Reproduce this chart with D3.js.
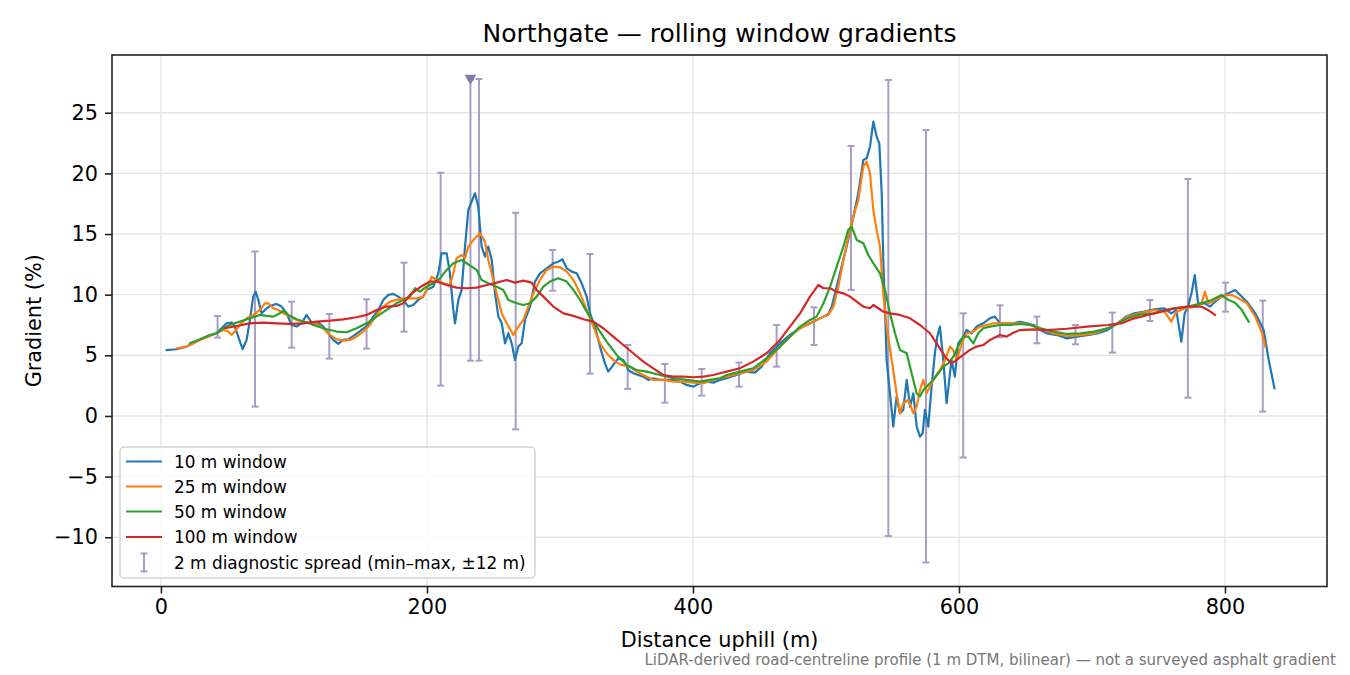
<!DOCTYPE html>
<html>
<head>
<meta charset="utf-8">
<script src="https://cdn.jsdelivr.net/npm/d3@7"></script>
<style>
  html, body { margin: 0; padding: 0; background: #fff; }
  svg { display: block; font-family: "DejaVu Sans", sans-serif; }
</style>
</head>
<body>
<svg id="chart" width="1350" height="675"></svg>
<script>
// ---------------- DATA ----------------
const title = "Northgate — rolling window gradients";
const xLabel = "Distance uphill (m)";
const yLabel = "Gradient (%)";
const footnote = "LiDAR-derived road-centreline profile (1 m DTM, bilinear) — not a surveyed asphalt gradient";
const xTicks = [0, 200, 400, 600, 800];
const yTicks = [-10, -5, 0, 5, 10, 15, 20, 25];
const seriesNames = ["10 m window", "25 m window", "50 m window", "100 m window"];
const spreadLabel = "2 m diagnostic spread (min–max, ±12 m)";

// [distance m, gradient %]
const win10 = [
 [4.3,5.44],[11.8,5.5],[19.3,5.72],[26.8,6.13],[34.3,6.54],[41.8,6.82],[45.6,7.23],[49.4,7.64],[53.1,7.7],[55.6,7.37],
 [58.1,6.54],[61.4,5.5],[64.4,6.27],[66.9,7.92],[69.4,9.84],[71.2,10.25],[73.2,9.57],[75.7,8.47],[78.2,8.74],[81.9,9.07],
 [86.9,9.24],[90.7,9.02],[94.5,8.47],[98.2,7.5],[102,7.37],[105.7,7.64],[109.5,8.33],[112,7.92],[114.5,7.5],[118.3,7.7],
 [122,7.37],[125.8,6.82],[129.5,6.27],[133.3,5.94],[137,6.27],[140.8,6.32],[145.9,6.68],[150.9,7.09],[155.9,7.5],[159.6,8.19],
 [163.4,8.74],[167.2,9.57],[170.9,9.98],[174.7,10.06],[178.4,9.84],[182.2,9.57],[186,9.02],[189.7,9.15],[193.5,9.57],[197.2,9.84],
 [199.7,10.39],[204.8,10.66],[208.5,11.76],[211,13.41],[214.8,13.41],[217.3,11.76],[219.8,8.74],[221.1,7.64],[223.6,9.57],[226.1,10.39],
 [228.6,13.96],[231.1,16.98],[233.6,17.67],[236.1,18.36],[238.6,17.26],[241.1,13.96],[243.6,13.14],[246.1,13.96],[248.7,12.86],[251.2,10.11],
 [253.7,8.19],[256.2,7.64],[258.7,5.99],[261.2,6.82],[263.7,5.99],[266.2,4.62],[268.7,5.72],[271.2,5.99],[273.7,7.92],[277.5,9.02],
 [281.2,11.08],[285,11.76],[290,12.17],[295,12.59],[298.8,12.72],[301.8,12.92],[305.1,12.17],[308.8,11.9],[312.6,11.76],[316.3,10.94],
 [320.1,9.84],[322.6,8.46],[326.3,7.37],[330.1,5.72],[333.8,4.34],[336.3,3.66],[340.1,4.21],[343.9,4.76],[347.6,4.62],[351.4,3.79],
 [355.1,3.52],[358.9,3.38],[362.7,3.24],[366.4,2.97],[370.2,3.11],[375.2,2.97],[380.2,2.97],[385.2,2.97],[390.2,2.83],[395.2,2.56],
 [400.3,2.42],[405.3,2.7],[410.3,2.83],[415.3,2.75],[420.3,2.97],[425.3,3.11],[432.8,3.38],[440.3,3.66],[446.6,3.57],[451.6,4.07],
 [457.9,5.17],[465.4,5.99],[472.9,6.68],[480.5,7.23],[488,7.64],[493,7.92],[498.1,8.19],[501.8,8.41],[504.3,9.01],[506.8,10.11],
 [510.5,11.76],[515.5,13.96],[520.6,16.43],[524.3,18.36],[528.1,21.1],[530.6,21.24],[533.1,22.2],[535.6,24.27],[538.1,23.03],[540.1,22.48],
 [541.9,18.36],[543.1,12.86],[544.4,8.74],[545.6,4.62],[548.1,1.87],[550.6,-0.88],[553.1,1.6],[555.6,0.22],[558.1,0.5],[560.7,2.97],
 [563.2,0.77],[565.7,1.87],[568.2,-0.88],[570.7,-1.7],[572.7,-1.43],[574.4,0.5],[576.9,-0.88],[579.4,2.42],[581.9,5.17],[583.7,6.54],
 [585.7,7.37],[588.2,4.62],[590.7,1.05],[592.7,2.97],[594.4,4.62],[596.9,3.24],[599.4,5.99],[603.2,6.54],[605.7,7.09],[609.5,6.82],
 [613.2,7.37],[618.2,7.64],[623.2,8.05],[627,8.19],[630.8,7.64],[635.8,7.64],[640.8,7.64],[646,7.77],[651,7.63],[656,7.5],
 [661.1,7.08],[666.1,6.81],[673.7,6.67],[681.3,6.4],[688.9,6.54],[696.4,6.67],[704,6.81],[711.6,7.08],[719.1,7.63],[725.4,8.18],
 [731.8,8.46],[739.4,8.6],[746.9,8.79],[754.5,8.87],[759.6,8.46],[763.4,8.73],[767.2,6.12],[769.7,8.46],[772.2,9.01],[774.8,10.11],
 [777.3,11.62],[779.8,9.28],[784.9,9.28],[788.7,9.01],[792.5,9.42],[797.5,9.83],[802.6,10.11],[807.6,10.38],[811.4,9.97],[816.5,9.42],
 [822.8,8.46],[829.1,7.08],[832.9,4.61],[837.2,2.28]
];
const win25 = [
 [11.8,5.58],[19.3,5.72],[26.8,6.13],[36.8,6.6],[41.8,6.82],[46.9,7.09],[50.6,6.96],[53.1,6.68],[55.6,6.96],[59.4,7.5],
 [64.4,8.05],[69.4,8.33],[74.4,8.74],[78.2,9.29],[80.7,9.29],[84.5,8.88],[88.2,8.74],[92,8.47],[97,8.19],[102,7.92],
 [107,7.78],[112,7.7],[117,7.59],[122,7.23],[127.1,6.68],[132.1,6.32],[137.1,6.21],[142.1,6.27],[147.1,6.54],[152.1,6.96],
 [157.1,7.5],[162.2,8.33],[167.2,9.02],[172.2,9.43],[177.2,9.57],[182.2,9.7],[187.2,9.7],[192.2,9.7],[197.2,9.84],
 [199.7,10.39],[203.5,11.49],[207.3,11.21],[212.3,10.94],[217.3,10.8],[219.8,11.76],[222.3,13.0],[226.1,13.27],[228.6,13.0],[231.1,13.96],
 [234.9,14.51],[239.9,15.06],[243.6,14.37],[246.1,12.86],[248.7,11.76],[252.4,10.11],[256.2,8.46],[260,7.64],[265,6.68],[268.7,7.37],
 [272.5,7.92],[276.2,9.02],[280,10.11],[285,11.21],[290,12.04],[295,12.31],[300.1,12.26],[305.1,11.9],[310.1,11.21],[315.1,10.11],
 [320.1,8.74],[325.1,7.37],[330.1,5.99],[335.1,5.17],[341.4,4.48],[346.4,4.21],[352.6,4.07],[357.6,3.66],[362.7,3.38],[370.2,2.97],
 [377.7,2.97],[385.2,2.83],[392.7,2.83],[400.3,2.75],[407.8,2.7],[415.3,2.97],[420.3,3.11],[425.3,3.24],[435.3,3.52],[445.3,3.79],
 [455.4,4.48],[465.4,5.72],[472.9,6.54],[480.5,7.23],[488,7.64],[493,7.92],[498.1,8.19],[501.8,8.33],[505.6,9.01],[509.3,10.66],
 [513.1,12.86],[516.8,14.79],[520.6,16.43],[524.3,17.81],[528.1,20.56],[530.6,20.97],[533.1,20.01],[535.6,16.98],[538.1,15.34],[540.6,13.96],
 [543.1,10.11],[545.6,7.37],[549.4,4.62],[553.1,1.87],[555.6,0.22],[558.1,1.05],[561.9,1.32],[565.7,0.22],[568.2,0.77],[570.7,2.14],
 [573.2,2.97],[575.7,1.87],[578.2,2.42],[582,3.24],[585.7,3.79],[589.5,4.62],[593.2,5.72],[595.7,5.44],[598.2,4.62],[600.7,5.44],
 [603.2,6.27],[605.7,6.82],[610.8,6.95],[615.8,7.37],[620.8,7.5],[625.8,7.64],[630.8,7.64],[638.3,7.64],[646,7.63],[653.6,7.5],
 [661.1,7.22],[671.2,6.81],[681.3,6.59],[691.4,6.67],[701.5,6.81],[711.6,7.22],[719.1,7.63],[726.7,8.18],[736.8,8.51],[746.9,8.73],
 [754.5,8.6],[759.6,7.77],[763.4,8.6],[769.7,8.87],[777.3,9.01],[782.4,9.28],[784.9,10.25],[787.4,9.28],[792.5,9.56],[800.1,9.97],
 [805.1,9.97],[810.2,9.7],[816.5,9.28],[822.8,8.18],[827.9,6.81],[830.4,5.71]
];
const win50 = [
 [21.8,6.0],[29.3,6.32],[36.8,6.68],[41.8,6.82],[46.9,7.23],[51.9,7.5],[59.4,7.78],[66.9,8.05],[74.4,8.33],[79.4,8.25],
 [84.5,8.19],[89.5,8.47],[92,8.69],[95.7,8.33],[102,7.97],[109.5,7.7],[117,7.42],[124.6,7.15],[132.1,6.96],[139.6,6.9],
 [147.1,7.23],[154.6,7.64],[162.2,8.19],[169.7,8.74],[177.2,9.29],[182.2,9.57],[187.2,9.84],[191,10.53],[194.7,10.25],
 [199.7,10.66],[204.8,10.94],[209.8,11.35],[214.8,12.04],[219.8,12.59],[226.1,12.86],[229.8,12.59],[233.6,12.31],[237.4,12.04],[241.1,11.21],
 [246.1,10.94],[252.4,10.66],[257.4,10.39],[261.2,9.56],[267.5,9.29],[272.5,9.15],[277.5,9.29],[282.5,9.84],[287.5,10.66],[292.5,11.08],
 [298.8,11.35],[305.1,11.08],[310.1,10.39],[315.1,9.56],[320.1,8.6],[327.6,7.37],[335.1,6.13],[342.6,5.03],[350.1,4.21],[357.6,3.79],
 [365.2,3.66],[375.2,3.38],[385.2,3.11],[395.2,2.97],[405.3,2.83],[412.8,2.97],[420.3,3.11],[425.3,3.38],[435.3,3.66],[445.3,3.93],
 [455.4,4.76],[465.4,5.72],[472.9,6.54],[480.5,7.37],[488,7.92],[493,8.19],[498.1,9.29],[503.1,10.66],[508.1,12.31],[513.1,13.96],
 [516.8,15.34],[519.3,15.61],[523.1,14.51],[528.1,14.24],[531.8,13.27],[535.6,12.59],[540.6,11.76],[544.4,10.39],[548.1,8.46],[551.9,6.82],
 [555.6,5.44],[560.7,5.17],[564.4,3.52],[568.2,1.87],[570.7,1.6],[573.2,2.14],[576.9,2.56],[580.7,2.97],[584.4,3.52],[588.2,4.07],
 [592,4.34],[595.7,4.89],[599.4,5.72],[603.2,6.54],[607,6.54],[610.8,5.99],[614.5,6.82],[618.2,7.23],[623.3,7.37],[630.8,7.5],
 [638.3,7.5],[646,7.58],[653.6,7.5],[661.1,7.22],[671.2,6.95],[681.3,6.76],[691.4,6.81],[701.5,6.95],[711.6,7.22],[719.1,7.63],
 [726.7,8.05],[736.8,8.4],[746.9,8.46],[754.5,8.73],[762.1,8.87],[772.2,9.01],[782.4,9.28],[790,9.56],[797.5,9.97],[802.6,9.56],
 [807.6,9.34],[812.7,8.73],[817.8,7.77]
];
const win100 = [
 [48.1,7.23],[56.9,7.42],[66.9,7.64],[76.9,7.7],[86.9,7.64],[97,7.59],[107,7.64],[117,7.78],[127.1,7.86],[137.1,7.97],
 [147.1,8.14],[154.6,8.33],[162.2,8.74],[169.7,9.02],[177.2,9.07],[182.2,9.29],[187.2,9.98],[194.7,10.61],
 [202.3,11.08],[207.3,11.08],[214.8,10.8],[222.3,10.58],[229.8,10.53],[237.4,10.58],[244.9,10.8],[252.4,10.99],[260,11.21],[266.2,10.99],
 [272.5,11.16],[278.7,10.99],[282.5,10.39],[287.5,9.84],[295,9.02],[302.6,8.46],[310.1,8.25],[317.6,7.97],[325.1,7.78],[332.6,7.23],
 [340.1,6.54],[347.6,5.85],[355.1,5.17],[362.7,4.48],[370.2,3.93],[377.7,3.38],[385.2,3.24],[392.7,3.24],[400.3,3.19],[407.8,3.24],
 [415.3,3.38],[420.3,3.52],[425.3,3.66],[435.3,3.93],[445.3,4.48],[455.4,5.17],[465.4,6.27],[472.9,7.37],[480.5,8.46],[488,9.84],
 [494.3,10.8],[498.1,10.53],[503.1,10.53],[508.1,10.25],[513.1,10.11],[518.1,9.84],[523.1,9.43],[528.1,9.01],[533.1,8.88],[535.6,9.15],
 [539.4,8.88],[543.1,8.6],[548.1,8.46],[555.6,8.33],[563.2,8.05],[570.7,7.5],[578.2,6.82],[583.2,5.99],[589.5,4.89],[594.4,4.34],
 [598.2,4.62],[603.2,5.03],[608.2,5.44],[613.2,5.72],[618.2,5.85],[623.3,6.27],[630.8,6.68],[635.8,6.54],[640.8,6.86],[646,7.08],
 [656,7.14],[666.1,7.08],[681.3,7.19],[696.4,7.36],[711.6,7.5],[721.7,7.63],[731.8,8.05],[741.9,8.32],[752,8.6],[762.1,8.87],
 [772.2,9.01],[782.4,9.01],[787.4,8.73],[792.5,8.32]
];
// 2 m diagnostic spread error bars
const spreadX  = [42.6, 70.7, 98.3, 126.6, 154.6, 182.7, 210.3, 232.7, 239.1, 266.7, 294.5, 322.6, 350.9, 378.9, 406.5, 434.6, 462.9, 491.0, 518.8, 546.9, 575.2, 603.2, 630.8, 658.6, 687.6, 715.3, 743.6, 772.1, 800.4, 828.4];
const spreadLo = [6.46, 0.77, 5.63, 4.73, 5.55, 6.95, 2.50, 4.56, 4.56, -1.10, 10.33, 3.49, 2.23, 1.10, 1.68, 2.42, 4.07, 5.85, 10.39, -9.89, -12.09, -3.43, 6.49, 5.99, 5.91, 5.22, 7.83, 1.51, 8.60, 0.36];
const spreadHi = [8.24, 13.55, 9.42, 8.41, 9.62, 12.64, 20.06, 27.75, 27.78, 16.76, 13.69, 13.36, 5.85, 4.29, 3.87, 4.40, 7.50, 8.96, 22.26, 27.70, 23.58, 8.46, 9.12, 8.19, 7.50, 8.52, 9.56, 19.54, 10.99, 9.51];
// clipped-value marker
const markerX = [232.7];
const markerY = [27.75];

// ---------------- LAYOUT ----------------
const colors = ["#1f77b4", "#ff7f0e", "#2ca02c", "#d62728"];
const seriesData = [win10, win25, win50, win100];
const spreadColor = "#a99dc4";
const markerColor = "#8677a9";
const L = 112, R = 1327, T = 55, B = 586.5;

const svg = d3.select("#chart");
const x = d3.scaleLinear().domain([-36.8, 876.7]).range([L, R]);
const y = d3.scaleLinear().domain([-14.06, 29.76]).range([B, T]);

svg.append("defs").append("clipPath").attr("id", "clip")
  .append("rect").attr("x", L).attr("y", T).attr("width", R - L).attr("height", B - T);

// grid
const grid = svg.append("g");
grid.selectAll(".gx").data(xTicks).join("line")
  .attr("x1", d => x(d)).attr("x2", d => x(d)).attr("y1", T).attr("y2", B)
  .attr("stroke", "#e6e6e6").attr("stroke-width", 1.4);
grid.selectAll(".gy").data(yTicks).join("line")
  .attr("y1", d => y(d)).attr("y2", d => y(d)).attr("x1", L).attr("x2", R)
  .attr("stroke", "#e6e6e6").attr("stroke-width", 1.4);

const plot = svg.append("g").attr("clip-path", "url(#clip)");

// error bars
const eb = plot.append("g").attr("stroke", spreadColor).attr("stroke-width", 2);
spreadX.forEach((sx, i) => {
  const px = x(sx);
  eb.append("line").attr("x1", px).attr("x2", px).attr("y1", y(spreadLo[i])).attr("y2", y(spreadHi[i]));
  eb.append("line").attr("x1", px - 3.5).attr("x2", px + 3.5).attr("y1", y(spreadLo[i])).attr("y2", y(spreadLo[i]));
  eb.append("line").attr("x1", px - 3.5).attr("x2", px + 3.5).attr("y1", y(spreadHi[i])).attr("y2", y(spreadHi[i]));
});

// lines
const line = d3.line().x(d => x(d[0])).y(d => y(d[1]));
seriesData.forEach((s, i) => {
  plot.append("path").datum(s).attr("d", line)
    .attr("fill", "none").attr("stroke", colors[i]).attr("stroke-width", 2.2)
    .attr("stroke-linejoin", "round").attr("stroke-linecap", "square");
});

// marker (downward triangle)
markerX.forEach((mx, i) => {
  const cx = x(mx), cy = y(markerY[i]);
  plot.append("path")
    .attr("d", `M${cx - 5.8},${cy - 4.6} L${cx + 5.8},${cy - 4.6} L${cx},${cy + 5.4} Z`)
    .attr("fill", markerColor);
});

// axes frame
svg.append("rect").attr("x", L).attr("y", T).attr("width", R - L).attr("height", B - T)
  .attr("fill", "none").attr("stroke", "#222").attr("stroke-width", 1.6);

// x axis
const xAxis = d3.axisBottom(x).tickValues(xTicks).tickSize(7).tickPadding(6).tickFormat(d3.format("d"));
const gx = svg.append("g").attr("transform", `translate(0,${B})`).call(xAxis);
gx.select(".domain").remove();
gx.selectAll(".tick line").attr("stroke", "#222").attr("stroke-width", 1.6);
gx.selectAll(".tick text").attr("fill", "#000").attr("font-size", "20.8px")
  .attr("font-family", "DejaVu Sans").attr("dy", "0.71em");

// y axis
const fmtY = d => (d < 0 ? "\u2212" + Math.abs(d) : String(d));
const yAxis = d3.axisLeft(y).tickValues(yTicks).tickSize(7).tickPadding(7).tickFormat(fmtY);
const gy = svg.append("g").attr("transform", `translate(${L},0)`).call(yAxis);
gy.select(".domain").remove();
gy.selectAll(".tick line").attr("stroke", "#222").attr("stroke-width", 1.6);
gy.selectAll(".tick text").attr("fill", "#000").attr("font-size", "20.8px")
  .attr("font-family", "DejaVu Sans");

// labels
svg.append("text").attr("x", (L + R) / 2).attr("y", 42).attr("text-anchor", "middle")
  .attr("font-size", "25px").attr("fill", "#000").text(title);
svg.append("text").attr("x", (L + R) / 2).attr("y", 647).attr("text-anchor", "middle")
  .attr("font-size", "20.8px").attr("fill", "#000").text(xLabel);
svg.append("text").attr("transform", `translate(40.5,${(T + B) / 2}) rotate(-90)`)
  .attr("text-anchor", "middle").attr("font-size", "20.8px").attr("fill", "#000").text(yLabel);
svg.append("text").attr("x", 1336).attr("y", 665).attr("text-anchor", "end")
  .attr("font-size", "15px").attr("fill", "#777").text(footnote);

// legend
const lg = svg.append("g");
lg.append("rect").attr("x", 120).attr("y", 447).attr("width", 415).attr("height", 131)
  .attr("rx", 4).attr("fill", "#fff").attr("fill-opacity", 0.8)
  .attr("stroke", "#d4d4d4").attr("stroke-width", 1.5);
const rowY = [461.5, 486.5, 511.5, 537, 562.5];
seriesNames.forEach((n, i) => {
  lg.append("line").attr("x1", 126).attr("x2", 162).attr("y1", rowY[i]).attr("y2", rowY[i])
    .attr("stroke", colors[i]).attr("stroke-width", 2.2);
  lg.append("text").attr("x", 174).attr("y", rowY[i]).attr("dy", "0.36em")
    .attr("font-size", "16.9px").attr("fill", "#000").text(n);
});
const ey = rowY[4];
const egl = lg.append("g").attr("stroke", spreadColor).attr("stroke-width", 2);
egl.append("line").attr("x1", 144).attr("x2", 144).attr("y1", ey - 9).attr("y2", ey + 9);
egl.append("line").attr("x1", 140.5).attr("x2", 147.5).attr("y1", ey - 9).attr("y2", ey - 9);
egl.append("line").attr("x1", 140.5).attr("x2", 147.5).attr("y1", ey + 9).attr("y2", ey + 9);
lg.append("text").attr("x", 174).attr("y", ey).attr("dy", "0.36em")
  .attr("font-size", "16.9px").attr("fill", "#000").text(spreadLabel);
</script>
</body>
</html>
